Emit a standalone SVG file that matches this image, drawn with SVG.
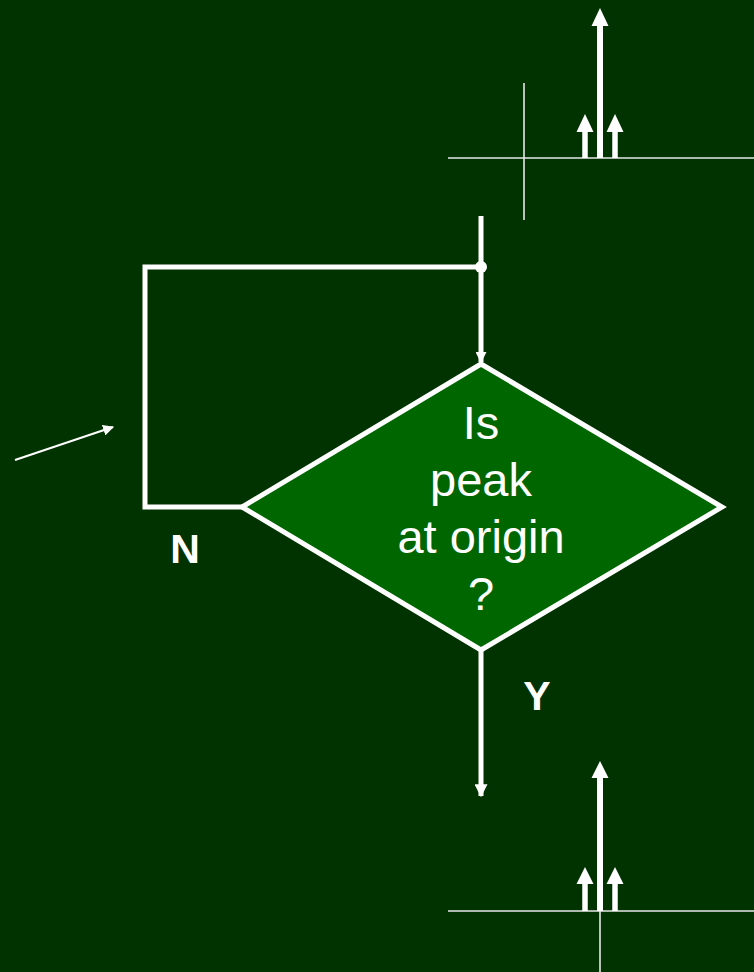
<svg xmlns="http://www.w3.org/2000/svg" width="754" height="972" viewBox="0 0 754 972">
<style>
.axis{stroke:#e8e8e8;stroke-width:1.6;fill:none}
.wire{stroke:#ffffff;stroke-width:5;fill:none}
.stem{stroke:#ffffff;fill:none}
.head{fill:#ffffff}
.lbl{font-family:"Liberation Sans",Arial,sans-serif;fill:#ffffff;text-anchor:middle}
</style>
<defs>
<marker id="ah" viewBox="0 0 10 10" refX="9" refY="5" markerWidth="11" markerHeight="11" markerUnits="userSpaceOnUse" orient="auto">
<path d="M0,0 L10,5 L0,10 Z" fill="#ffffff"/>
</marker>
<marker id="ah2" viewBox="0 0 10 10" refX="9" refY="5" markerWidth="13" markerHeight="13" markerUnits="userSpaceOnUse" orient="auto">
<path d="M0,0 L10,5 L0,10 Z" fill="#ffffff"/>
</marker>
</defs>
<rect x="0" y="0" width="754" height="972" fill="#003300"/>

<g id="plot-top">
<line class="axis" x1="448" y1="158" x2="754" y2="158"/>
<line class="axis" x1="524" y1="83" x2="524" y2="220"/>
<line class="stem" x1="600" y1="158" x2="600" y2="24" stroke-width="6"/>
<polygon class="head" points="600,8 591.5,26 608.5,26"/>
<line class="stem" x1="585" y1="158" x2="585" y2="130" stroke-width="5.5"/>
<polygon class="head" points="585,114 576.5,132 593.5,132"/>
<line class="stem" x1="615" y1="158" x2="615" y2="130" stroke-width="5.5"/>
<polygon class="head" points="615,114 606.5,132 623.5,132"/>
</g>

<g id="plot-bottom">
<line class="axis" x1="448" y1="911" x2="754" y2="911"/>
<line class="axis" x1="600" y1="911" x2="600" y2="972"/>
<line class="stem" x1="600" y1="911" x2="600" y2="776" stroke-width="6"/>
<polygon class="head" points="600,761 591.5,778 608.5,778"/>
<line class="stem" x1="585" y1="911" x2="585" y2="882" stroke-width="5.5"/>
<polygon class="head" points="585,867 576.5,884 593.5,884"/>
<line class="stem" x1="615" y1="911" x2="615" y2="882" stroke-width="5.5"/>
<polygon class="head" points="615,867 606.5,884 623.5,884"/>
</g>

<g id="connectors">
<line class="wire" x1="481" y1="216" x2="481" y2="362" marker-end="url(#ah)"/>
<polyline class="wire" points="242,507 145,507 145,267 481,267" stroke-linejoin="miter"/>
<circle cx="481" cy="267" r="6" fill="#ffffff"/>
<line class="wire" x1="481" y1="650" x2="481" y2="796" marker-end="url(#ah2)"/>
<line x1="15" y1="460" x2="113" y2="427" stroke="#ffffff" stroke-width="2.2" marker-end="url(#ah)"/>
</g>

<g id="decision">
<polygon points="481,364 722,507 481,650 242,507" fill="#006600" stroke="#ffffff" stroke-width="5" stroke-linejoin="miter"/>
<text class="lbl" font-size="47" x="481" y="439">Is</text>
<text class="lbl" font-size="47" x="481" y="496">peak</text>
<text class="lbl" font-size="47" x="481" y="553">at origin</text>
<text class="lbl" font-size="47" x="481" y="610">?</text>
</g>

<g id="label-n"><text class="lbl" font-size="41" font-weight="bold" x="185" y="563">N</text></g>
<g id="label-y"><text class="lbl" font-size="41" font-weight="bold" x="537" y="710">Y</text></g>
</svg>
